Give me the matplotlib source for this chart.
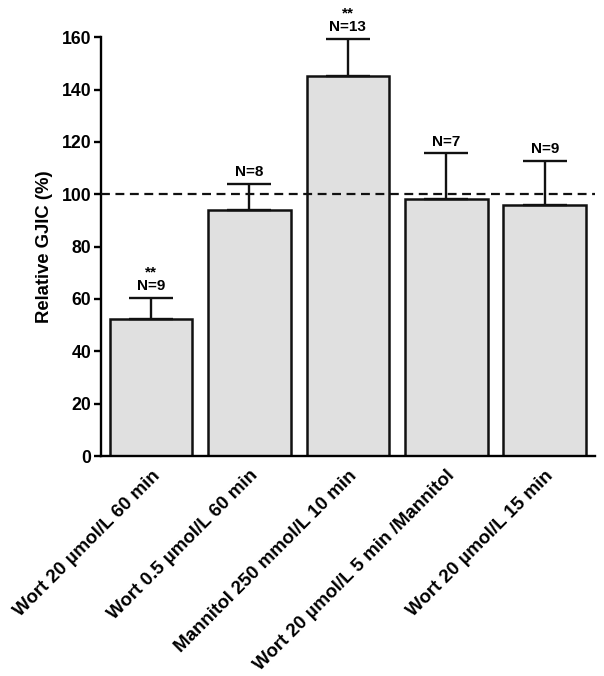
import numpy as np
import matplotlib
matplotlib.use('Agg')
import matplotlib.pyplot as plt

plt.rcParams['font.family'] = ['Liberation Sans', 'DejaVu Sans']
plt.rcParams['font.weight'] = 'bold'

# 数据
categories = ['Wort 20 µmol/L 60 min', 'Wort 0.5 µmol/L 60 min',
              'Mannitol 250 mmol/L 10 min', 'Wort 20 µmol/L 5 min /Mannitol',
              'Wort 20 µmol/L 15 min']
means = [52.3, 93.9, 145.0, 98.1, 96.0]
errors = [8.0, 10.0, 14.2, 17.5, 16.6]
n_labels = ['N=9', 'N=8', 'N=13', 'N=7', 'N=9']
stars = ['**', '', '**', '', '']

fig = plt.figure(figsize=(6.04, 6.76), dpi=100)
ax = fig.add_axes([0.167, 0.3254, 0.818, 0.6196])

x = np.arange(len(categories))
ax.bar(x, means, width=0.84, color='#e0e0e0', edgecolor='#111111', linewidth=1.8, zorder=2)
ax.errorbar(x, means, yerr=[np.zeros(len(errors)), errors], fmt='none',
            ecolor='#111111', elinewidth=1.7, capsize=15.5, capthick=1.7,
            zorder=3, clip_on=False)

ax.axhline(100, color='#111111', linestyle=(0, (4, 2.5)), linewidth=1.6, zorder=4)

# N 标注和显著性星号（合成一个文本）
for xi, m, e, n, s in zip(x, means, errors, n_labels, stars):
    top = m + e
    label = f'{s}\n{n}' if s else n
    ax.annotate(label, xy=(xi, top), xytext=(0, 3.5), textcoords='offset points',
                ha='center', va='bottom', multialignment='center', linespacing=0.95,
                fontsize=11, fontweight='bold', clip_on=False)

ax.set_xlim(-0.51, 4.51)
ax.set_ylim(0, 160)
ax.set_yticks(np.arange(0, 161, 20))
ax.set_xticks(x)
ax.set_xticklabels(categories, rotation=45, ha='right', rotation_mode='anchor',
                   fontsize=13.5, fontweight='bold')
ax.tick_params(axis='x', length=0, pad=8)
ax.tick_params(axis='y', length=5, width=1.7, labelsize=12.7, pad=2)
ax.set_ylabel('Relative GJIC (%)', fontsize=13.3, fontweight='bold', labelpad=6)

for side in ['top', 'right']:
    ax.spines[side].set_visible(False)
for side in ['left', 'bottom']:
    ax.spines[side].set_linewidth(1.7)

plt.savefig('out.png', dpi=100)
